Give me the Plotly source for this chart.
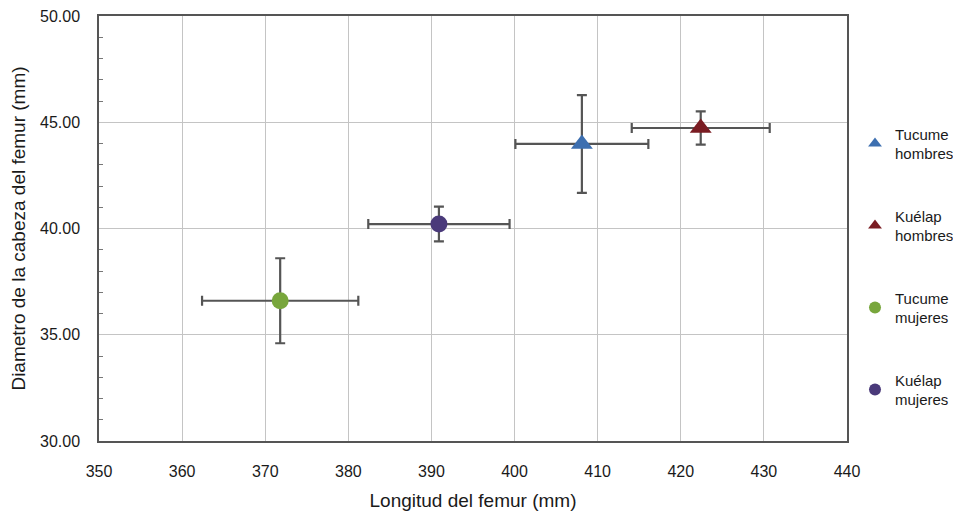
import plotly.graph_objects as go

groups = ["Tucume<br>hombres", "Kuélap<br>hombres", "Tucume<br>mujeres", "Kuélap<br>mujeres"]
femur_length = [408.1, 422.4, 371.8, 390.9]
femur_length_err = [8.0, 8.3, 9.4, 8.5]
head_diameter = [43.98, 44.73, 36.6, 40.21]
head_diameter_err = [2.3, 0.78, 2.0, 0.82]
colors = ["#3d6fb0", "#7a1c22", "#78a63c", "#4a3a7a"]
symbols = ["triangle-up", "triangle-up", "circle", "circle"]

fig = go.Figure()
for i, g in enumerate(groups):
    fig.add_trace(go.Scatter(
        x=[femur_length[i]], y=[head_diameter[i]], name=g, mode="markers",
        legendgroup=str(i),
        marker=dict(color=colors[i], symbol=symbols[i], size=17 if symbols[i] == "circle" else 19),
        error_x=dict(type="data", array=[femur_length_err[i]], color="#555555", thickness=2.2, width=5),
        error_y=dict(type="data", array=[head_diameter_err[i]], color="#555555", thickness=2.2, width=5),
    ))

fig.update_layout(
    width=953, height=505,
    margin=dict(l=91, r=114, t=8, b=72, autoexpand=False),
    paper_bgcolor="white", plot_bgcolor="white",
    font=dict(family="Liberation Sans, Arial", size=16, color="#1a1a1a"),
    showlegend=True,
    legend=dict(x=1.0107, y=0.761, xanchor="left", yanchor="top", tracegroupgap=40,
                font=dict(size=15, color="#1a1a1a"), itemwidth=30, itemsizing="constant"),
    xaxis=dict(range=[350, 440], dtick=10, showgrid=True, gridcolor="#c4c4c4", gridwidth=1.2,
               showline=True, mirror=True, linecolor="#555555", linewidth=1.5, ticks="",
               zeroline=False, automargin=False, ticklabelstandoff=15,
               ticklabeloverflow="allow",
               title=dict(text="Longitud del femur (mm)", standoff=15)),
    yaxis=dict(range=[30, 50], dtick=5, tickformat=".2f", showgrid=True, gridcolor="#c4c4c4", gridwidth=1.2,
               showline=True, mirror=True, linecolor="#555555", linewidth=1.5, ticks="", zeroline=False,
               automargin=False, ticklabelstandoff=14, ticklabeloverflow="allow",
               minor=dict(dtick=1, ticks="inside", ticklen=4, tickcolor="#777777", showgrid=False),
               title=dict(text="Diametro de la cabeza del femur (mm)", standoff=10)),
)

fig.write_html("out.html")
